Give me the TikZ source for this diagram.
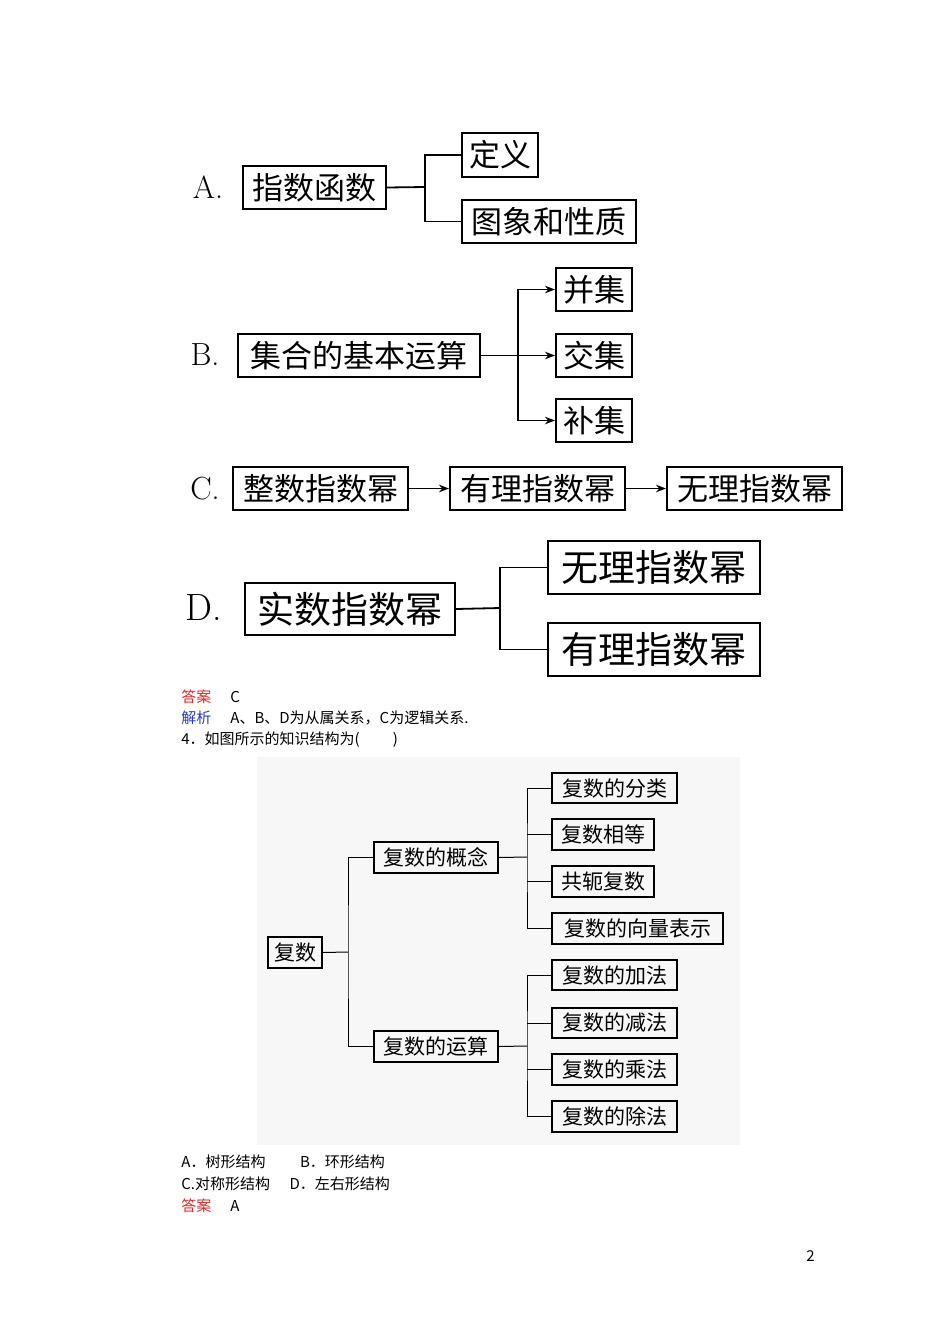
\documentclass[tikz,border=0pt]{standalone}
\usepackage{fontspec}
\newfontfamily\cjk{Noto Sans CJK SC}
\usetikzlibrary{positioning,arrows.meta}
\definecolor{ansred}{RGB}{220,40,40}
\definecolor{ansblue}{RGB}{40,60,200}
% box from corner (x1,y1) to (x2,y2), in pixels
\newcommand{\bx}[7]{\node[#7, minimum width={(#4-#2)*0.5pt}, minimum height={(#5-#3)*0.5pt}] (#1) at ({(#2+#4)/2},{(#3+#5)/2}) {#6};}
\tikzset{
  big/.style={draw, line width=1pt, inner sep=0pt, font=\cjk\fontsize{15.5}{16}\selectfont},
  huge/.style={draw, line width=1pt, inner sep=0pt, font=\cjk\fontsize{18.5}{19}\selectfont},
  small/.style={draw, line width=0.6pt, inner sep=0pt, font=\cjk\fontsize{10.5}{11}\selectfont},
  lbl/.style={font=\fontsize{16}{17}\selectfont},
  txt/.style={anchor=west, inner sep=0pt, font=\cjk\fontsize{7.5}{8}\selectfont},
  ln/.style={line width=0.9pt},
  thin/.style={line width=0.5pt},
  arr/.style={line width=0.9pt, -{Stealth[length=5pt]}}
}
\begin{document}
\begin{tikzpicture}[x=0.5pt, y=-0.5pt]
  \useasboundingbox (0,0) rectangle (950,1344);

  % A
  \node[lbl] (la) at (208,187) {A.};
  \bx{zs}{243}{166}{386}{209}{指数函数}{big}
  \bx{dy}{462}{133}{538}{177}{定义}{big}
  \bx{tx}{462}{200}{636}{243}{图象和性质}{big}
  \coordinate (ja) at (425,187);
  \draw[ln] (zs.east) -- (ja);
  \draw[ln] (dy.west) -| (ja) |- (tx.west);

  % B
  \node[lbl] (lb) at (205,355) {B.};
  \bx{jh}{238}{334}{480}{377}{集合的基本运算}{big}
  \bx{bj}{556}{268}{632}{311}{并集}{big}
  \bx{jj}{556}{334}{632}{377}{交集}{big}
  \bx{bu}{556}{399}{632}{442}{补集}{big}
  \coordinate (jb) at (518,355);
  \draw[arr] (jh.east) -- (jj.west);
  \draw[arr] (jb) |- (bj.west);
  \draw[arr] (jb) |- (bu.west);

  % C
  \node[lbl] (lc) at (205,489) {C.};
  \bx{c1}{233}{467}{408}{510}{整数指数幂}{big}
  \bx{c2}{450}{467}{625}{510}{有理指数幂}{big}
  \bx{c3}{667}{467}{842}{510}{无理指数幂}{big}
  \draw[arr] (c1) -- (c2);
  \draw[arr] (c2) -- (c3);

  % D
  \node[lbl, font=\fontsize{19}{20}\selectfont] (ld) at (204,608) {D.};
  \bx{ss}{245}{583}{455}{635}{实数指数幂}{huge}
  \bx{wl}{548}{541}{760}{594}{无理指数幂}{huge}
  \bx{yl}{548}{623}{760}{676}{有理指数幂}{huge}
  \coordinate (jd) at (500,608);
  \draw[ln] (ss.east) -- (jd);
  \draw[ln] (wl.west) -| (jd) |- (yl.west);

  % text
  \node[txt, text=ansred] (da1) at (181,697) {答案};
  \node[txt] (da1v) at (230,697) {C};
  \node[txt, text=ansblue] (jx) at (181,718) {解析};
  \node[txt] (jxv) at (230,718) {A、B、D为从属关系，C为逻辑关系.};
  \node[txt] (q4) at (181,740) {4．如图所示的知识结构为(\hspace{2.2em})};

  % tree
  \fill[black!3] (257,757) rectangle (740,1145);
  \bx{fs}{268}{937}{322}{968}{复数}{small}
  \bx{gn}{374}{842}{498}{873}{复数的概念}{small}
  \bx{ys}{374}{1031}{498}{1062}{复数的运算}{small}
  \bx{r1}{552}{773}{677}{803}{复数的分类}{small}
  \bx{r2}{552}{819}{654}{850}{复数相等}{small}
  \bx{r3}{552}{866}{654}{897}{共轭复数}{small}
  \bx{r4}{552}{913}{723}{944}{复数的向量表示}{small}
  \bx{r5}{552}{960}{677}{990}{复数的加法}{small}
  \bx{r6}{552}{1008}{677}{1038}{复数的减法}{small}
  \bx{r7}{552}{1054}{677}{1085}{复数的乘法}{small}
  \bx{r8}{552}{1101}{677}{1132}{复数的除法}{small}
  \coordinate (j0) at (348,952);
  \coordinate (j1) at (527,857);
  \coordinate (j2) at (527,1046);
  \draw[thin] (fs.east) -- (j0);
  \draw[thin] (gn.west) -| (j0) |- (ys.west);
  \draw[thin] (gn.east) -- (j1);
  \draw[thin] (r1.west) -| (j1) |- (r4.west);
  \draw[thin] (r2.west) -- (r2.west -| j1);
  \draw[thin] (r3.west) -- (r3.west -| j1);
  \draw[thin] (ys.east) -- (j2);
  \draw[thin] (r5.west) -| (j2) |- (r8.west);
  \draw[thin] (r6.west) -- (r6.west -| j2);
  \draw[thin] (r7.west) -- (r7.west -| j2);

  \node[txt] (o1) at (181,1162) {A．树形结构\hspace{2.3em}B．环形结构};
  \node[txt] (o2) at (181,1184) {C.对称形结构\hspace{1.3em}D．左右形结构};
  \node[txt, text=ansred] (da2) at (181,1206) {答案};
  \node[txt] (da2v) at (230,1206) {A};
  \node[txt] (pg) at (806,1256) {2};
\end{tikzpicture}
\end{document}
